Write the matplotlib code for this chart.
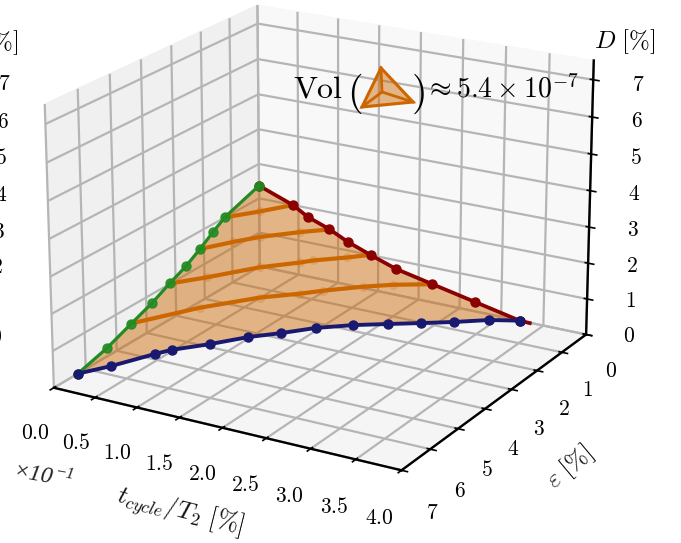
import matplotlib
matplotlib.use('Agg')
from matplotlib import pyplot as plt
from matplotlib.patches import Polygon
from mpl_toolkits.mplot3d import proj3d
from mpl_toolkits.mplot3d.art3d import Poly3DCollection

plt.rcParams['mathtext.fontset'] = 'cm'
plt.rcParams['font.family'] = 'cmr10'
plt.rcParams['axes.unicode_minus'] = False
plt.rcParams['axes.formatter.use_mathtext'] = True

x_ticks = [0.0, 0.5, 1.0, 1.5, 2.0, 2.5, 3.0, 3.5, 4.0]
y_ticks = [0, 1, 2, 3, 4, 5, 6, 7]
z_ticks = [0, 1, 2, 3, 4, 5, 6, 7]

# edge in the z=0 plane
blue_x = [0.0, 0.18, 0.39, 0.48, 0.74, 0.98, 1.22, 1.46, 1.76, 2.06, 2.35, 2.64, 2.93, 3.22]
blue_y = [6.25, 5.66, 4.78, 4.46, 3.87, 3.23, 2.76, 2.22, 1.75, 1.38, 1.03, 0.67, 0.26, 0.0]
# edge in the y=0 plane
red_x = [0.0, 0.43, 0.62, 0.89, 1.12, 1.41, 1.72, 2.16, 2.68, 3.22]
red_z = [2.37, 2.0, 1.74, 1.51, 1.25, 1.0, 0.75, 0.53, 0.27, 0.0]
# edge in the x=0 plane
green_y = [6.25, 5.31, 4.51, 3.81, 3.19, 2.63, 2.14, 1.68, 1.24, 0.0]
green_z = [0.0, 0.23, 0.51, 0.75, 1.02, 1.24, 1.5, 1.77, 2.01, 2.37]

# constant D curves on the surface
level_z = [0.52, 1.01, 1.5, 2.0]
level_x = [[0.0, 0.38, 0.77, 1.08, 1.25, 1.56, 1.81, 2.16],
           [0.0, 0.24, 0.57, 0.87, 0.96, 1.23, 1.41],
           [0.0, 0.19, 0.36, 0.66, 0.89],
           [0.0, 0.23, 0.43]]
level_y = [[4.51, 3.21, 2.22, 1.67, 1.32, 0.76, 0.39, 0.0],
           [3.19, 2.58, 1.63, 1.03, 0.81, 0.35, 0.0],
           [2.14, 1.51, 1.02, 0.4, 0.0],
           [1.24, 0.62, 0.0]]

ORANGE = '#cc6600'
W, H = 681, 543


def px(x, y):
    return x / W, 1 - y / H


fig = plt.figure(figsize=(W / 100, H / 100), dpi=100)
ax = fig.add_axes([-22.8 / W, 40.8 / H, 1.0, 1.0], projection='3d')
ax.computed_zorder = False
ax.view_init(elev=20.03, azim=-59.66, roll=0.08)
ax.set_proj_type('persp', focal_length=1.117)
ax.set_box_aspect((4, 3.976, 2.998), zoom=1.13)
ax.set_xlim(0, 4, view_margin=0)
ax.set_ylim(7, 0, view_margin=0)
ax.set_zlim(0, 7.515, view_margin=0)
ax.set_xticks(x_ticks)
ax.set_yticks(y_ticks)
ax.set_zticks(z_ticks)
ax.set_xticklabels([''] * len(x_ticks))
ax.set_yticklabels([''] * len(y_ticks))
ax.set_zticklabels([''] * len(z_ticks))

for axis in (ax.xaxis, ax.yaxis, ax.zaxis):
    axis._axinfo['grid']['color'] = '#b5b5b5'
    axis._axinfo['grid']['linewidth'] = 1.6
    axis.line.set_linewidth(1.7)
    axis._axinfo['tick']['linewidth'] = {True: 1.2, False: 1.0}
    axis.pane.set_edgecolor('none')
ax.xaxis.set_pane_color('#f0f0f0')
ax.yaxis.set_pane_color('#f8f8f8')
ax.zaxis.set_pane_color('#f5f5f5')


def tick_text(label, x, y, z, dx, dy):
    # label placed at a pixel offset from the projected tick
    u, v, _ = proj3d.proj_transform(x, y, z, ax.get_proj())
    ax.annotate(label, xy=(u, v), xycoords='data', xytext=(dx, -dy), textcoords='offset pixels',
                ha='center', va='center', fontsize=15.5, annotation_clip=False)


for i, t in enumerate(x_ticks):
    tick_text('$%.1f$' % t, t, 7, 0, -19 - 3 * i / 8, 45 + 3 * i / 8)
for t in y_ticks:
    tick_text('$%d$' % t, 4, t, 0, 25 + 6 * t / 7, 37 + 6 * t / 7)
for t in z_ticks:
    tick_text('$%d$' % t, 4, 0, t, 43 + 2 * t / 7, 2 + 3 * t / 7)

# surface patch
verts = list(zip(blue_x, blue_y, [0.0] * len(blue_x)))
verts += list(zip(red_x[::-1], [0.0] * len(red_x), red_z[::-1]))
verts += list(zip([0.0] * len(green_y), green_y[::-1], green_z[::-1]))
surf = Poly3DCollection([verts], facecolor=ORANGE, edgecolor='none', alpha=0.46, zorder=3)
ax.add_collection3d(surf)

for lz, lx, ly in zip(level_z, level_x, level_y):
    zs = [lz] * len(lx)
    ax.plot(lx[1:-1], ly[1:-1], zs[1:-1], 'o', color=ORANGE, ms=6.5, alpha=0.22, mec='none', zorder=4)
    ax.plot(lx, ly, zs, '-', color=ORANGE, lw=3, zorder=5)

ax.plot(red_x + [3.34], [0.0] * (len(red_x) + 1), red_z + [-0.01], '-', color='darkred', lw=2.7, zorder=6)
ax.plot(red_x, [0.0] * len(red_x), red_z, 'o', color='darkred', ms=6.5, zorder=6)
ax.plot([0.0] * len(green_y), green_y, green_z, '-', color='forestgreen', lw=2.3, zorder=7)
ax.plot([0.0] * len(green_y), green_y, green_z, 'o', color='forestgreen', ms=6.5, alpha=0.9, zorder=7)
ax.plot(blue_x, blue_y, [0.0] * len(blue_x), '-', color='midnightblue', lw=2.8, zorder=8)
ax.plot(blue_x, blue_y, [0.0] * len(blue_x), 'o', color='midnightblue', ms=6.5, zorder=8)

# axis labels
fig.text(*px(625, 42), r'$D\ [\%]$', fontsize=18, ha='center', va='center')
fig.text(*px(570, 467), r'$\varepsilon\ [\%]$', fontsize=18, ha='center', va='center',
         rotation=40, color='#111111')
fig.text(*px(180, 512), r'$t_{cycle}/T_2\ [\%]$', fontsize=18.5, ha='center', va='center',
         rotation=-14, color='#111111')
fig.text(*px(33, 475), '\u00d710', fontsize=17, ha='center', va='center', rotation=-10,
         color='#222222', family='Liberation Serif', style='italic')
fig.text(*px(64, 474), '\u22121', fontsize=12, ha='center', va='center', rotation=-10,
         color='#222222', family='Liberation Serif', style='italic')

# tick labels of the neighbouring panel, cut off by the image edge
for label, xr, yc in zip(z_ticks[::-1], [10, 9, 7, 7, 5, 3, 1, 2], [84, 122, 158, 195, 232, 267, 303, 337]):
    fig.text(*px(xr, yc), '$%d$' % label, fontsize=15.5, ha='right', va='center')
fig.text(*px(19, 43), r'$[\%]$', fontsize=18, ha='right', va='center')

# volume annotation
fig.text(*px(293, 97), 'Vol', fontsize=23, ha='left', va='baseline')
fig.text(*px(347, 104), '(', fontsize=29, ha='left', va='baseline')
fig.text(*px(412, 104), ')', fontsize=29, ha='left', va='baseline')
fig.text(*px(425, 97), r'$\approx 5.4 \times 10^{-7}$', fontsize=20, ha='left', va='baseline')

tetra_outer = [(381, 68), (362, 107), (413, 102)]
tetra_inner = (382, 92)
fig.add_artist(Polygon([px(*p) for p in tetra_outer], closed=True, transform=fig.transFigure,
                       facecolor=ORANGE, alpha=0.46, edgecolor='none'))
fig.add_artist(Polygon([px(*p) for p in tetra_outer], closed=True, transform=fig.transFigure,
                       facecolor='none', edgecolor=ORANGE, lw=2.2))
for p in tetra_outer:
    fig.add_artist(plt.Line2D(*zip(px(*p), px(*tetra_inner)), transform=fig.transFigure,
                              color=ORANGE, lw=2))

fig.savefig('out.png', dpi=100)
